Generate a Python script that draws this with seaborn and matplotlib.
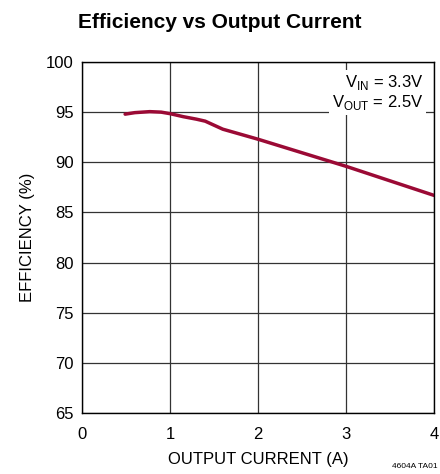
import numpy as np
import pandas as pd
import seaborn as sns
import matplotlib.pyplot as plt

# curve
current = [0.49, 0.6, 0.77, 0.9, 1.0, 1.15, 1.3, 1.4, 1.5, 1.6, 1.8, 2.0, 2.5, 3.0, 3.5, 4.0]
efficiency = [94.8, 94.95, 95.05, 95.0, 94.85, 94.55, 94.3, 94.1, 93.7, 93.3, 92.8, 92.3, 90.95, 89.6, 88.15, 86.7]
xticks = [0, 1, 2, 3, 4]
yticks = [65, 70, 75, 80, 85, 90, 95, 100]

df = pd.DataFrame({"current": current, "efficiency": efficiency})

sns.set_style("white")
plt.rcParams['font.family'] = ['Liberation Sans Narrow', 'Liberation Sans', 'DejaVu Sans']
plt.rcParams['text.color'] = 'black'
plt.rcParams['axes.labelcolor'] = 'black'
plt.rcParams['xtick.color'] = 'black'
plt.rcParams['ytick.color'] = 'black'

fig = plt.figure(figsize=(4.4, 4.74), dpi=100)
ax = fig.add_axes([82/440, 1 - 413/474, 352/440, 351/474])

sns.lineplot(data=df, x="current", y="efficiency", ax=ax, color="#9b0a35", linewidth=2.5)

ax.set_xlim(0, 4)
ax.set_ylim(65, 100)
ax.set_xticks(xticks)
ax.set_yticks(yticks)
ax.tick_params(axis="x", length=0, labelsize=12, pad=10)
ax.tick_params(axis="y", length=0, labelsize=12, pad=6)
ax.grid(True, color="#333333", linewidth=0.9)
for s in ax.spines.values():
    s.set_color("black")
    s.set_linewidth(1.0)

ax.set_xlabel("OUTPUT CURRENT (A)", fontsize=12, labelpad=7)
ax.set_ylabel("EFFICIENCY (%)", fontsize=12, labelpad=8)

ax.text(0.97, 0.97, "V$_{\\mathregular{IN}}$ = 3.3V\nV$_{\\mathregular{OUT}}$ = 2.5V",
        transform=ax.transAxes, ha="right", va="top", fontsize=12, linespacing=1.1,
        bbox=dict(facecolor="white", edgecolor="none", pad=2))

fig.text(0.5, 1 - 22/474, "Efficiency vs Output Current", ha="center", va="center",
         fontsize=15, fontweight="bold")
fig.text(0.995, 1 - 467/474, "4604A TA01", ha="right", va="center", fontsize=6)

fig.savefig("out.png", dpi=100, facecolor="white")
